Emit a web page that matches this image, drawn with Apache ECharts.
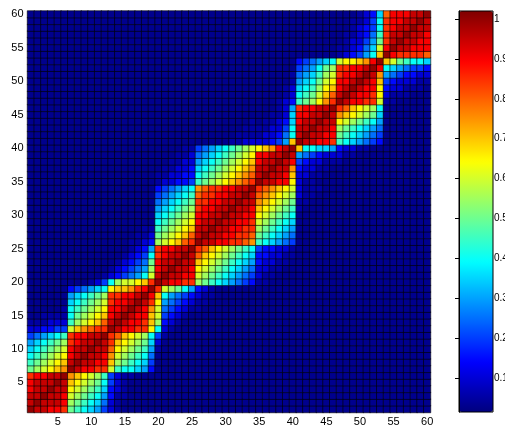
<!DOCTYPE html>
<html>
<head>
<meta charset="utf-8">
<script src="https://cdn.jsdelivr.net/npm/echarts@6/dist/echarts.min.js"></script>
<style>
  html, body { margin: 0; padding: 0; background: #fff; }
  #chart { width: 505px; height: 430px; }
</style>
</head>
<body>
<div id="chart"></div>
<script>
// 60 x 60 symmetric similarity matrix, shown as a cell grid with a jet colour bar.
const N = 60;
const AXIS_TICKS = [5, 10, 15, 20, 25, 30, 35, 40, 45, 50, 55, 60];
const COLORBAR_TICKS = [0.1, 0.2, 0.3, 0.4, 0.5, 0.6, 0.7, 0.8, 0.9, 1];
const COLOR_MIN = 0.015;
const COLOR_MAX = 1.02;

// One letter per cell: a = background level, then 0.05 steps up to u = 1.
const LEVEL_CODES = 'abcdefghijklmnopqrstu';
const LEVEL_VALUES = [0.03, 0.05, 0.10, 0.15, 0.20, 0.25, 0.30, 0.35, 0.40, 0.45, 0.50,
                      0.55, 0.60, 0.65, 0.70, 0.75, 0.80, 0.85, 0.90, 0.95, 1.00];

// Lower triangle: row r lists columns 1..r (groups of ten separated by spaces).
// The matrix is symmetric, so cell (c, r) above the diagonal equals (r, c).
const LOWER_ROWS = [
  'u',
  'tu',
  'ttu',
  'sttu',
  'stttu',
  'rssttu',
  'klmnopu',
  'jklmnotu',
  'ijklmnstu',
  'hijklmsttu',
  'ghijklrstt u',
  'efghijrsst tu',
  'ccddeemopq rru',
  'bbbcccjlmn oqtu',
  'aabbbbiklm nostu',
  'aaaaabijkl mnsstu',
  'aaaaaahijk lmrsstu',
  'aaaaaaghij klrrsstu',
  'aaaaaadefg hinooprsu',
  'aaaaaaaaab ceilmmnoru',
  'aaaaaaaaaa abcdefgimt u',
  'aaaaaaaaaa aabcdefgls tu',
  'aaaaaaaaaa aaabcdefks ttu',
  'aaaaaaaaaa aaaabcdeir sttu',
  'aaaaaaaaaa aaaaabcdgr ssttu',
  'aaaaaaaaaa aaaaabbcdl mnoqru',
  'aaaaaaaaaa aaaaaabbck lmnoqtu',
  'aaaaaaaaaa aaaaaaabbj klmnottu',
  'aaaaaaaaaa aaaaaaaaai jklmnsttu',
  'aaaaaaaaaa aaaaaaaaah ijklmssttu',
  'aaaaaaaaaa aaaaaaaaag hijklrsstt u',
  'aaaaaaaaaa aaaaaaaaaf ghijkrrsst tu',
  'aaaaaaaaaa aaaaaaaaae fghijqrrss ttu',
  'aaaaaaaaaa aaaaaaaaad efghipqrrs sttu',
  'aaaaaaaaaa aaaaaaaaab ccddejklmn opqru',
  'aaaaaaaaaa aaaaaaaaab bccddijklm nopqtu',
  'aaaaaaaaaa aaaaaaaaaa bbccdhijkl mnopttu',
  'aaaaaaaaaa aaaaaaaaaa abbccghijk lmnosttu',
  'aaaaaaaaaa aaaaaaaaaa aabbcfghij klmnssttu',
  'aaaaaaaaaa aaaaaaaaaa aaabbefghi jklmnopstu',
  'aaaaaaaaaa aaaaaaaaaa aaaaaaaaaa bbccccdego u',
  'aaaaaaaaaa aaaaaaaaaa aaaaaaaaaa abbbbccdfi tu',
  'aaaaaaaaaa aaaaaaaaaa aaaaaaaaaa aabbbbccei ttu',
  'aaaaaaaaaa aaaaaaaaaa aaaaaaaaaa aaababbcdh sttu',
  'aaaaaaaaaa aaaaaaaaaa aaaaaaaaaa aaaaaabbch ssttu',
  'aaaaaaaaaa aaaaaaaaaa aaaaaaaaaa aaaaaaabcg rssttu',
  'aaaaaaaaaa aaaaaaaaaa aaaaaaaaaa aaaaaaabcd jklnpru',
  'aaaaaaaaaa aaaaaaaaaa aaaaaaaaaa aaaaaaaabc ijkmoqtu',
  'aaaaaaaaaa aaaaaaaaaa aaaaaaaaaa aaaaaaaabc hijlnostu',
  'aaaaaaaaaa aaaaaaaaaa aaaaaaaaaa aaaaaaaaab ghikmnsstu',
  'aaaaaaaaaa aaaaaaaaaa aaaaaaaaaa aaaaaaaaab fghjlmrsst u',
  'aaaaaaaaaa aaaaaaaaaa aaaaaaaaaa aaaaaaaaaa efgiklrrss tu',
  'aaaaaaaaaa aaaaaaaaaa aaaaaaaaaa aaaaaaaaaa defghimnno psu',
  'aaaaaaaaaa aaaaaaaaaa aaaaaaaaaa aaaaaaaaaa aaaaaabcde giou',
  'aaaaaaaaaa aaaaaaaaaa aaaaaaaaaa aaaaaaaaaa aaaaaabbcd fhmsu',
  'aaaaaaaaaa aaaaaaaaaa aaaaaaaaaa aaaaaaaaaa aaaaaaabcc egkrtu',
  'aaaaaaaaaa aaaaaaaaaa aaaaaaaaaa aaaaaaaaaa aaaaaaabbc dfjrttu',
  'aaaaaaaaaa aaaaaaaaaa aaaaaaaaaa aaaaaaaaaa aaaaaaaabc deirsttu',
  'aaaaaaaaaa aaaaaaaaaa aaaaaaaaaa aaaaaaaaaa aaaaaaaabb ceirssttu',
  'aaaaaaaaaa aaaaaaaaaa aaaaaaaaaa aaaaaaaaaa aaaaaaaaab cdhqsssttu'
];

const JET = ['#00007f', '#0000ff', '#007fff', '#00ffff', '#7fff7f',
             '#ffff00', '#ff7f00', '#ff0000', '#7f0000'];

const rows = LOWER_ROWS.map(s => s.replace(/ /g, ''));
rows.forEach((s, i) => {
  if (s.length !== i + 1) throw new Error('row ' + (i + 1) + ' has ' + s.length + ' cells');
});
const cellValue = (r, c) => {
  const code = c <= r ? rows[r][c] : rows[c][r];
  return LEVEL_VALUES[LEVEL_CODES.indexOf(code)];
};

const labels = Array.from({ length: N }, (_, i) => String(i + 1));
const cells = [];
for (let r = 0; r < N; r++) {
  for (let c = 0; c < N; c++) cells.push([c, r, cellValue(r, c)]);
}

const FONT = '"Liberation Sans", Arial, sans-serif';
const tickLabel = v => (AXIS_TICKS.includes(Number(v)) ? v : '');

// colour bar box
const BAR = { left: 459, top: 11, width: 34, height: 401 };

const chart = echarts.init(document.getElementById('chart'), null, { renderer: 'canvas' });
chart.setOption({
  animation: false,
  backgroundColor: '#ffffff',
  textStyle: { fontFamily: FONT },
  grid: [
    { left: 27.5, top: 11, width: 403, height: 401.5, outerBoundsMode: 'none', containLabel: false },
    {
      left: BAR.left, top: BAR.top, width: BAR.width, height: BAR.height,
      outerBoundsMode: 'none', containLabel: false,
      show: true, borderColor: '#000', borderWidth: 1, backgroundColor: 'transparent', z: 10
    }
  ],
  xAxis: [
    {
      type: 'category', gridIndex: 0, data: labels, position: 'bottom',
      axisLine: { show: false }, axisTick: { show: false }, splitLine: { show: false },
      axisLabel: { interval: 0, formatter: tickLabel, color: '#000', fontSize: 11, margin: 4, fontFamily: FONT }
    },
    {
      type: 'value', gridIndex: 1, show: false
    }
  ],
  yAxis: [
    {
      type: 'category', gridIndex: 0, data: labels, position: 'left',
      axisLine: { show: false }, axisTick: { show: false }, splitLine: { show: false },
      axisLabel: { interval: 0, formatter: tickLabel, color: '#000', fontSize: 11, margin: 4, fontFamily: FONT }
    },
    {
      type: 'value', gridIndex: 1, position: 'right', min: COLOR_MIN, max: COLOR_MAX, z: 10,
      axisLine: { show: true, lineStyle: { color: '#000', width: 1 } },
      axisTick: { show: true, inside: true, length: 4, customValues: COLORBAR_TICKS, lineStyle: { color: '#000' } },
      axisLabel: {
        customValues: COLORBAR_TICKS, color: '#000', fontSize: 10, margin: 1, align: 'left',
        fontFamily: FONT,
        formatter: v => (v === 1 ? '1' : v.toFixed(1))
      },
      splitLine: { show: false }
    }
  ],
  visualMap: {
    type: 'continuous', min: COLOR_MIN, max: COLOR_MAX, dimension: 2, seriesIndex: 0,
    calculable: false, orient: 'vertical', left: BAR.left, top: BAR.top, padding: 0,
    itemWidth: BAR.width, itemHeight: BAR.height, inRange: { color: JET }, hoverLink: false,
    text: null, showLabel: false
  },
  series: [{
    type: 'heatmap', xAxisIndex: 0, yAxisIndex: 0, data: cells,
    progressive: 0, emphasis: { disabled: true },
    itemStyle: { borderColor: 'rgba(0,0,0,0.6)', borderWidth: 1 }
  }]
});
</script>
</body>
</html>
